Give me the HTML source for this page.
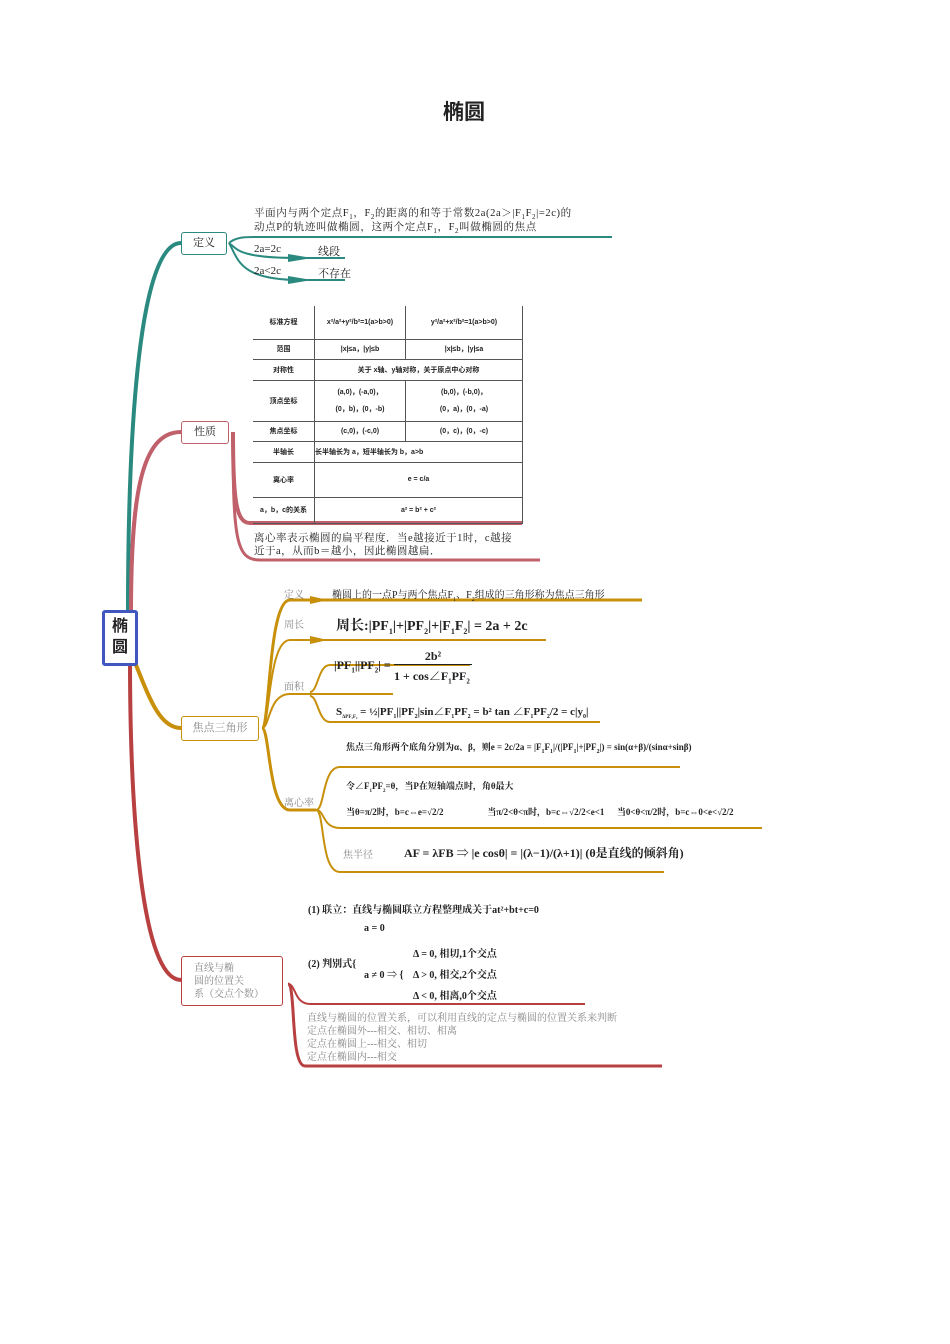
<!DOCTYPE html>
<html><head><meta charset="utf-8"><style>
body{margin:0;background:#fff;}
#c{position:relative;width:950px;height:1344px;overflow:hidden;font-family:"Liberation Serif","Noto Serif CJK SC",serif;color:#222;}
sub,sup{line-height:0;}
.t{position:absolute;white-space:nowrap;}
.b{font-weight:bold;}
.g{color:#888;}
table{position:absolute;left:253px;top:306px;border-collapse:collapse;font-family:"Liberation Sans","Noto Sans CJK SC",sans-serif;font-size:7px;font-weight:bold;}
td{border:1px solid #555;text-align:center;padding:0;}
table tr:first-child td{border-top:none;}
table td:first-child{border-left:none;}
</style></head><body><div id="c">
<div class="t b" style="left:443px;top:96px;font-size:21px;font-family:'Liberation Sans','Noto Sans CJK SC',sans-serif;">椭圆</div>

<svg width="950" height="1344" style="position:absolute;left:0;top:0">
<!-- teal -->
<path d="M128 612 C128 420 140 243 181 243" stroke="#2a8a80" stroke-width="4" fill="none"/>
<path d="M229 243 C236 237 245 237 255 237 L612 237" stroke="#2a8a80" stroke-width="2" fill="none"/>
<path d="M229 243 C238 250 240 258 300 258 L345 258" stroke="#2a8a80" stroke-width="2" fill="none"/>
<path d="M229 243 C238 258 238 280 300 280 L345 280" stroke="#2a8a80" stroke-width="2" fill="none"/>
<path d="M312 258 L288 254 L288 262Z M312 280 L288 276 L288 284Z" fill="#2a8a80"/>
<!-- pink -->
<path d="M131 612 C131 500 140 432 181 432" stroke="#c0606a" stroke-width="4" fill="none"/>
<path d="M233 432 C233 500 236 523 250 523 L522 523" stroke="#c0606a" stroke-width="4" fill="none"/>
<path d="M233 432 C233 540 236 560 260 560 L540 560" stroke="#c0606a" stroke-width="3" fill="none"/>
<!-- gold -->
<path d="M134 660 C150 700 160 728 181 728" stroke="#c8900a" stroke-width="4" fill="none"/>
<path d="M262 728 C270 728 268 600 290 600 L642 600" stroke="#c8900a" stroke-width="3" fill="none"/>
<path d="M262 728 C270 728 268 640 290 640 L546 640" stroke="#c8900a" stroke-width="2" fill="none"/>
<path d="M262 728 C270 728 268 694 290 694 L393 694" stroke="#c8900a" stroke-width="2" fill="none"/>
<path d="M262 728 C270 728 268 810 290 810 L316 810" stroke="#c8900a" stroke-width="3" fill="none"/>
<path d="M310 692 C318 692 318 665 330 665 L470 665" stroke="#c8900a" stroke-width="2" fill="none"/>
<path d="M310 696 C318 696 318 722 330 722 L600 722" stroke="#c8900a" stroke-width="2" fill="none"/>
<path d="M316 810 C325 810 322 767 340 767 L680 767" stroke="#c8900a" stroke-width="2" fill="none"/>
<path d="M316 810 C325 810 322 828 340 828 L762 828" stroke="#c8900a" stroke-width="2" fill="none"/>
<path d="M316 810 C325 810 320 872 340 872 L664 872" stroke="#c8900a" stroke-width="2" fill="none"/>
<path d="M328 600 L310 596 L310 604Z M328 640 L310 636 L310 644Z" fill="#c8900a"/>
<!-- red -->
<path d="M130 660 C130 800 140 980 181 980" stroke="#b84040" stroke-width="4" fill="none"/>
<path d="M288 984 C296 984 294 1004 310 1004 L585 1004" stroke="#b84040" stroke-width="2" fill="none"/>
<path d="M288 984 C296 984 290 1066 305 1066 L662 1066" stroke="#b84040" stroke-width="3" fill="none"/>
</svg>

<div style="position:absolute;left:102px;top:610px;width:30px;height:47px;border:3px solid #4057c0;border-radius:3px;background:#fff;font-size:16px;font-weight:bold;text-align:center;line-height:21px;padding-top:3px;font-family:'Liberation Sans','Noto Sans CJK SC',sans-serif;">椭<br>圆</div>

<div style="position:absolute;left:181px;top:232px;width:44px;height:21px;border:1.5px solid #2a8a80;border-radius:3px;background:#fff;font-size:11px;line-height:21px;text-align:center;">定义</div>
<div class="t" style="left:254px;top:207px;font-size:10.5px;line-height:14px;letter-spacing:0.6px;">平面内与两个定点F<sub style="font-size:7px">1</sub>，F<sub style="font-size:7px">2</sub>的距离的和等于常数2a(2a＞|F<sub style="font-size:7px">1</sub>F<sub style="font-size:7px">2</sub>|=2c)的<br>动点P的轨迹叫做椭圆，这两个定点F<sub style="font-size:7px">1</sub>，F<sub style="font-size:7px">2</sub>叫做椭圆的焦点</div>
<div class="t" style="left:254px;top:243px;font-size:11px;">2a=2c</div>
<div class="t" style="left:318px;top:243px;font-size:11px;">线段</div>
<div class="t" style="left:254px;top:265px;font-size:11px;">2a&lt;2c</div>
<div class="t" style="left:318px;top:265px;font-size:11px;">不存在</div>

<div style="position:absolute;left:181px;top:421px;width:46px;height:21px;border:1.5px solid #c0606a;border-radius:3px;background:#fff;font-size:11px;line-height:21px;text-align:center;">性质</div>
<table>
<tr style="height:33px"><td style="width:61px">标准方程</td><td style="width:90px">x²/a²+y²/b²=1(a&gt;b&gt;0)</td><td style="width:116px">y²/a²+x²/b²=1(a&gt;b&gt;0)</td></tr>
<tr style="height:20px"><td>范围</td><td>|x|≤a，|y|≤b</td><td>|x|≤b，|y|≤a</td></tr>
<tr style="height:21px"><td>对称性</td><td colspan="2">关于 x轴、y轴对称，关于原点中心对称</td></tr>
<tr style="height:41px"><td>顶点坐标</td><td>(a,0)，(-a,0)，<br><br>(0，b)，(0，-b)</td><td>(b,0)，(-b,0)，<br><br>(0，a)，(0，-a)</td></tr>
<tr style="height:20px"><td>焦点坐标</td><td>(c,0)，(-c,0)</td><td>(0，c)，(0，-c)</td></tr>
<tr style="height:21px"><td>半轴长</td><td colspan="2" style="text-align:left">长半轴长为 a，短半轴长为 b，a&gt;b</td></tr>
<tr style="height:35px"><td>离心率</td><td colspan="2">e = c/a</td></tr>
<tr style="height:26px"><td>a，b，c的关系</td><td colspan="2">a² = b² + c²</td></tr>
</table>
<div class="t" style="left:254px;top:532px;font-size:10.5px;line-height:13px;letter-spacing:0.5px;">离心率表示椭圆的扁平程度．当e越接近于1时，c越接<br>近于a，从而b＝越小，因此椭圆越扁．</div>

<div style="position:absolute;left:181px;top:716px;width:76px;height:23px;border:1.5px solid #c8900a;border-radius:3px;background:#fff;font-size:11px;line-height:23px;text-align:center;color:#888;">焦点三角形</div>
<div class="t g" style="left:284px;top:586px;font-size:10px;">定义</div>
<div class="t" style="left:332px;top:586px;font-size:10px;">椭圆上的一点P与两个焦点F<sub style="font-size:6px">1</sub>、F<sub style="font-size:6px">2</sub>组成的三角形称为焦点三角形</div>
<div class="t g" style="left:284px;top:616px;font-size:10px;">周长</div>
<div class="t b" style="left:336px;top:615px;font-size:14px;">周长:|PF<sub style="font-size:8px">1</sub>|+|PF<sub style="font-size:8px">2</sub>|+|F<sub style="font-size:8px">1</sub>F<sub style="font-size:8px">2</sub>| = 2a + 2c</div>
<div class="t b" style="left:334px;top:658px;font-size:12px;">|PF<sub style="font-size:7px">1</sub>||PF<sub style="font-size:7px">2</sub>| =</div>
<div class="t b" style="left:394px;top:649px;width:78px;text-align:center;font-size:12px;border-bottom:1px solid #222;">2b²</div>
<div class="t b" style="left:394px;top:667px;font-size:12px;">1 + cos∠F<sub style="font-size:7px">1</sub>PF<sub style="font-size:7px">2</sub></div>
<div class="t g" style="left:284px;top:678px;font-size:10px;">面积</div>
<div class="t b" style="left:336px;top:703px;font-size:11px;">S<sub style="font-size:5px">ΔPF₁F₂</sub> = ½|PF<sub style="font-size:6px">1</sub>||PF<sub style="font-size:6px">2</sub>|sin∠F<sub style="font-size:6px">1</sub>PF<sub style="font-size:6px">2</sub> = b² tan ∠F<sub style="font-size:6px">1</sub>PF<sub style="font-size:6px">2</sub>/2 = c|y<sub style="font-size:6px">0</sub>|</div>
<div class="t b" style="left:346px;top:740px;font-size:9px;">焦点三角形两个底角分别为α、β，则e = 2c/2a = |F<sub style="font-size:6px">1</sub>F<sub style="font-size:6px">1</sub>|/(|PF<sub style="font-size:6px">1</sub>|+|PF<sub style="font-size:6px">2</sub>|) = sin(α+β)/(sinα+sinβ)</div>
<div class="t g" style="left:284px;top:794px;font-size:10px;">离心率</div>
<div class="t b" style="left:346px;top:779px;font-size:9px;">令∠F<sub style="font-size:5px">1</sub>PF<sub style="font-size:5px">2</sub>=θ，当P在短轴端点时，角θ最大</div>
<div class="t b" style="left:346px;top:805px;font-size:9px;word-spacing:4px;">当θ=π/2时，b=c⇔e=√2/2 &nbsp;&nbsp;&nbsp;&nbsp;&nbsp; 当π/2&lt;θ&lt;π时，b=c⇔√2/2&lt;e&lt;1 &nbsp;当0&lt;θ&lt;π/2时，b=c⇔0&lt;e&lt;√2/2</div>
<div class="t g" style="left:343px;top:846px;font-size:10px;">焦半径</div>
<div class="t b" style="left:404px;top:844px;font-size:12px;">AF = λFB ⇒ |e cosθ| = |(λ−1)/(λ+1)| (θ是直线的倾斜角)</div>

<div style="position:absolute;left:181px;top:956px;width:102px;height:50px;border:1.5px solid #b84040;border-radius:3px;background:#fff;font-size:10px;line-height:13px;color:#888;padding:5px 0 0 12px;box-sizing:border-box;">直线与椭<br>圆的位置关<br>系（交点个数）</div>
<div class="t b" style="left:308px;top:901px;font-size:10px;">(1) 联立：直线与椭圆联立方程整理成关于at²+bt+c=0</div>
<div class="t b" style="left:308px;top:955px;font-size:10px;">(2) 判别式{</div>
<div class="t b" style="left:364px;top:923px;font-size:10px;">a = 0</div>
<div class="t b" style="left:364px;top:966px;font-size:10px;">a ≠ 0 ⇒ {</div>
<div class="t b" style="left:413px;top:944px;font-size:10px;line-height:21px;">Δ = 0, 相切,1个交点<br>Δ &gt; 0, 相交,2个交点<br>Δ &lt; 0,  相离,0个交点</div>
<div class="t g" style="left:307px;top:1012px;font-size:10px;line-height:13px;">直线与椭圆的位置关系，可以利用直线的定点与椭圆的位置关系来判断<br>定点在椭圆外---相交、相切、相离<br>定点在椭圆上---相交、相切<br>定点在椭圆内---相交</div>
</div></body></html>
